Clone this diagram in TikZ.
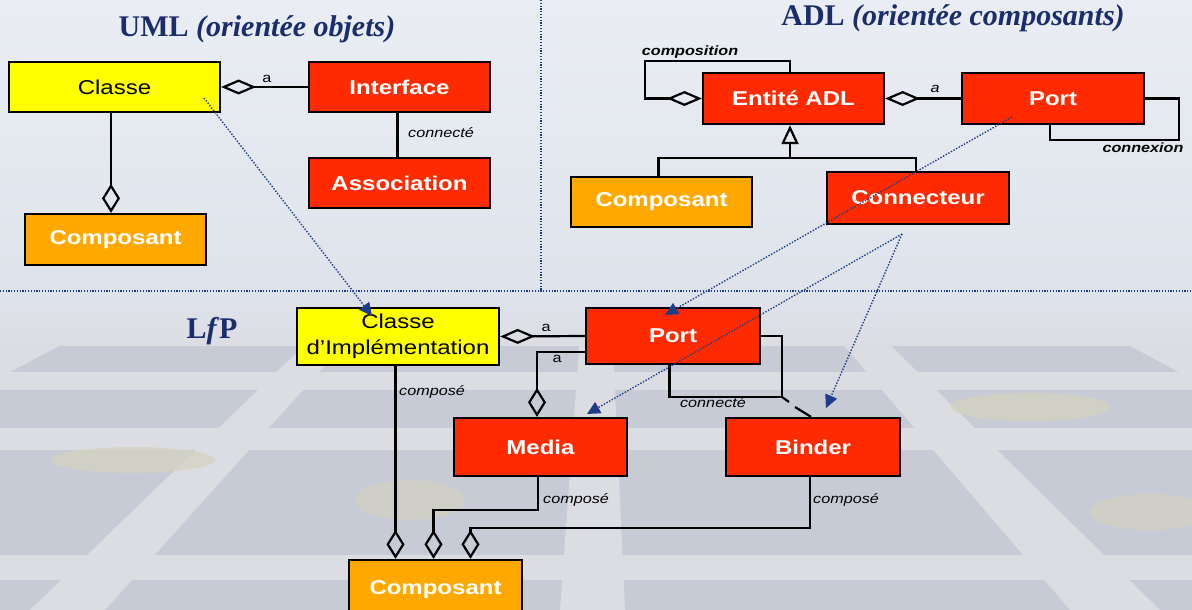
\documentclass[tikz,border=0pt]{standalone}
\usepackage{fontspec}
\usetikzlibrary{arrows.meta,calc}
\newfontfamily\boxfont[FakeStretch=1.2]{Liberation Sans}
\newfontfamily\headfont{Liberation Serif}

\definecolor{titlenavy}{HTML}{1B2D6B}
\definecolor{classyellow}{HTML}{FFFF00}
\definecolor{entityred}{HTML}{FF2A00}
\definecolor{comporange}{HTML}{FFA800}
\definecolor{tracblue}{HTML}{1F3C88}
\definecolor{skytop}{HTML}{EAEEF4}
\definecolor{skymid}{HTML}{DEE2EA}
\definecolor{floortile}{HTML}{C7CBD5}
\definecolor{floorline}{HTML}{DCDDE3}
\definecolor{floorblob}{HTML}{D6D3BF}

\tikzset{
  box/.style={draw=black, line width=2.3pt, inner sep=0pt,
    font=\boxfont\fontsize{20}{25.5}\selectfont},
  yellowbox/.style={box, fill=classyellow, text=black},
  redbox/.style={box, fill=entityred, text=white, font=\boxfont\fontsize{20}{25.5}\selectfont\bfseries},
  orangebox/.style={box, fill=comporange, text=white, font=\boxfont\fontsize{20}{25.5}\selectfont\bfseries},
  link/.style={draw=black, line width=2.2pt},
  hdiamond/.style={{Diamond[open,length=35pt,width=15pt,line width=2.2pt]}-},
  vdiamond/.style={{Diamond[open,length=29pt,width=18pt,line width=2.2pt]}-},
  inherit/.style={{Triangle[open,length=19pt,width=17pt,line width=2.2pt]}-},
  lbl/.style={inner sep=0pt, font=\boxfont\fontsize{13.5}{15}\selectfont},
  lblit/.style={lbl, font=\boxfont\fontsize{13.5}{15}\selectfont\itshape},
  lblbi/.style={lbl, font=\boxfont\fontsize{13.5}{15}\selectfont\bfseries\itshape},
  trace/.style={draw=tracblue, line width=1.4pt, dash pattern=on 1.4pt off 1.6pt,
    -{Triangle[length=13pt,width=13pt,fill=tracblue,line width=0pt]}},
  separator/.style={draw=tracblue, line width=1.2pt, dash pattern=on 1.2pt off 1.6pt},
  title/.style={text=titlenavy, inner sep=0pt, font=\headfont\fontsize{30}{32}\selectfont\bfseries}
}

\begin{document}
\begin{tikzpicture}[x=1pt,y=-1pt]
\useasboundingbox (0,0) rectangle (1192,610);
\clip (0,0) rectangle (1192,610);

% backdrop: pale sky fading into a tiled floor
\fill[top color=skytop, bottom color=skymid] (0,0) rectangle (1192,300);
\begin{scope}
  \clip (0,296) rectangle (1192,610);
  \fill[floortile] (0,340) rectangle (1192,610);
  \foreach \a/\b in {-560/-440, 30/105, 560/625, 1070/1160, 1620/1760}
    \fill[floorline] (600,60) -- (\a,610) -- (\b,610) -- cycle;
  \foreach \u/\v in {372/390, 428/450, 555/580}
    \fill[floorline] (0,\u) rectangle (1192,\v);
  \fill[top color=skymid, bottom color=floorline] (0,296) rectangle (1192,345);
  \fill[floorblob, opacity=0.7] (133,460) ellipse [x radius=82pt, y radius=13pt];
  \fill[floorblob, opacity=0.7] (1030,407) ellipse [x radius=80pt, y radius=14pt];
  \fill[floorblob, opacity=0.6] (1150,512) ellipse [x radius=60pt, y radius=18pt];
  \fill[floorblob, opacity=0.6] (410,500) ellipse [x radius=55pt, y radius=20pt];
\end{scope}

% region separators
\draw[separator] (541,0) -- (541,291);
\draw[separator] (0,291) -- (1192,291);

% titles
\node[title] (tuml) at (257,29) {UML \textit{(orientée objets)}};
\node[title] (tadl) at (953,18) {ADL \textit{(orientée composants)}};
\node[title] (tlfp) at (212,331) {L\textit{f}P};

% ---------- UML ----------
\node[yellowbox, minimum width=211pt, minimum height=50pt] (classe) at (114.5,87) {Classe};
\node[redbox, minimum width=181pt, minimum height=50pt] (interface) at (399.5,87) {Interface};
\node[redbox, minimum width=181pt, minimum height=50pt] (assoc) at (399.5,183) {Association};
\node[orangebox, minimum width=181pt, minimum height=51pt] (compU) at (115.5,239.5) {Composant};

\draw[link, hdiamond] (classe.east) -- (interface.west);
\node[lbl] (aU) at (267,79) {a};
\draw[link] ([xshift=-2pt]interface.south) -- ([xshift=-2pt]assoc.north);
\node[lblit, anchor=west] (cU) at (408,133) {connecté};
\draw[link, vdiamond] ([xshift=-4.5pt]compU.north) -- ([xshift=-4.5pt]compU.north |- classe.south);

% ---------- ADL ----------
\node[redbox, minimum width=181pt, minimum height=51pt] (entite) at (793.5,98.5) {Entité ADL};
\node[redbox, minimum width=182pt, minimum height=51pt] (portA) at (1053,98.5) {Port};
\node[orangebox, minimum width=181pt, minimum height=50pt] (compA) at (661.5,202) {Composant};
\node[redbox, minimum width=182pt, minimum height=52pt] (conn) at (918,198) {Connecteur};

\draw[link, hdiamond] (entite.east) -- (portA.west);
\node[lblit] (aA) at (935,89) {a};
\draw[link, hdiamond] (entite.west) -- (645,98.5) -- (645,61) -| ([xshift=-3.5pt]entite.north);
\node[lblbi] (lcomp) at (690,52) {composition};
\draw[link] (portA.east) -- (1179,98.5) -- (1179,140) -| ([xshift=-3pt]portA.south);
\node[lblbi] (lconx) at (1143,148) {connexion};
\draw[link, inherit] ([xshift=-3.5pt]entite.south) -- ++(0,33) coordinate (gen);
\draw[link] ([xshift=-3pt]compA.north) |- (gen) -| ([xshift=-2pt]conn.north);

% ---------- LfP ----------
\node[yellowbox, minimum width=202pt, minimum height=57pt, align=center] (impl) at (398,336.5) {Classe\\d’Implémentation};
\node[redbox, minimum width=174pt, minimum height=56pt] (portL) at (673,336) {Port};
\node[redbox, minimum width=173pt, minimum height=58pt] (media) at (540.5,447) {Media};
\node[redbox, minimum width=174pt, minimum height=58pt] (binder) at (813,447) {Binder};
\node[orangebox, minimum width=173pt, minimum height=56pt, text depth=0pt] (compL) at (435.5,588) {Composant};

\draw[link, hdiamond] (impl.east) -- (portL.west);
\node[lbl] (aL1) at (546,328) {a};
\draw[link, vdiamond] ([xshift=-3.5pt]media.north) |- ([yshift=-16pt]portL.west);
\node[lbl] (aL2) at (557,359) {a};

\draw[link] (portL.east) -- (782,336) -- (782,397) -| ([xshift=-3.5pt]portL.south);
\draw[link] (782,397) -- (789,402);
\draw[link] (795,407) -- ([xshift=-2pt]binder.north);
\node[lblit] (cL) at (713,403) {connecté};

\draw[link, vdiamond] ([xshift=-40pt]compL.north) -- ([xshift=-40pt]compL.north |- impl.south);
\node[lblit, anchor=west] (k1) at (399,392) {composé};
\draw[link, vdiamond] ([xshift=-2pt]compL.north) -- ++(0,-49) -| ([xshift=-2.5pt]media.south);
\node[lblit, anchor=west] (k2) at (543,500) {composé};
\draw[link, vdiamond] ([xshift=35pt]compL.north) -- ++(0,-30.5) -| ([xshift=-3pt]binder.south);
\node[lblit, anchor=west] (k3) at (813,500) {composé};

% ---------- trace links between the three models ----------
\coordinate (s1) at (204,98);
\coordinate (t1) at (372,316);
\coordinate (s2) at (1012,117);
\coordinate (t2) at (665,315);
\coordinate (s3) at (902,234);
\coordinate (t3) at (587,414);
\coordinate (t4) at (826,408);
\draw[trace] (s1) -- (t1);
\draw[trace] (s2) -- (t2);
\draw[trace] (s3) -- (t3);
\draw[trace] (s3) -- (t4);
\end{tikzpicture}
\end{document}
